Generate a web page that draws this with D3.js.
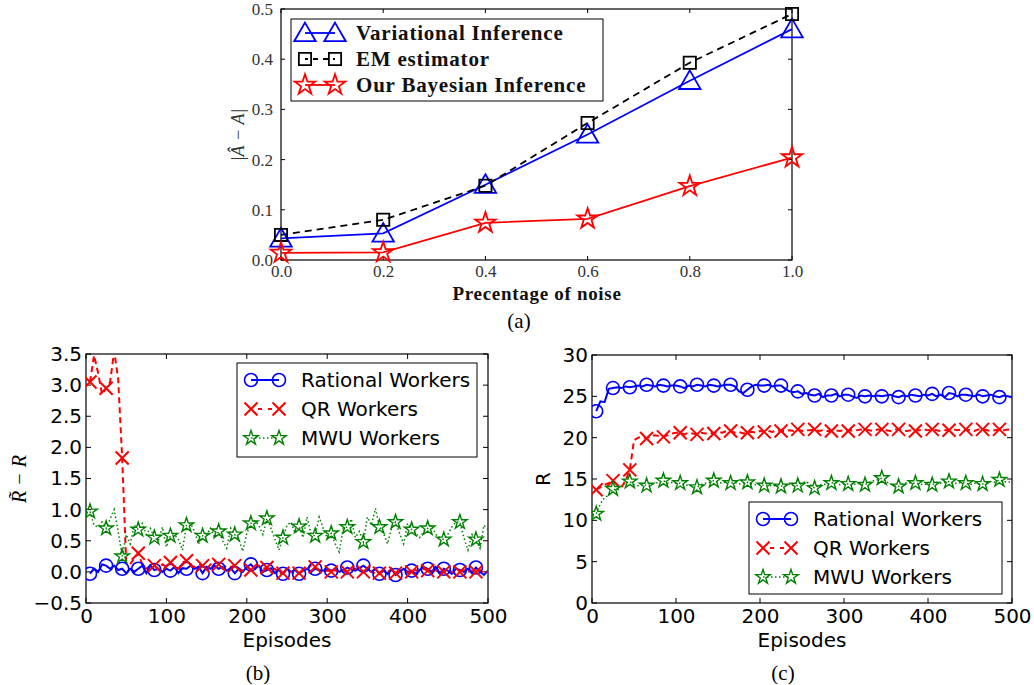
<!DOCTYPE html>
<html><head><meta charset="utf-8">
<script src="https://cdn.jsdelivr.net/npm/d3@7"></script>
<style>body{margin:0;background:#fff}svg{display:block}</style>
</head><body>
<svg id="c" width="1034" height="685"></svg>
<script>
// ---------- Panel (a) data ----------
const noiseLevels = [0.0, 0.2, 0.4, 0.6, 0.8, 1.0];
const viValues    = [0.043, 0.053, 0.150, 0.250, 0.357, 0.460];
const emValues    = [0.050, 0.080, 0.148, 0.273, 0.393, 0.490];
const bayesValues = [0.014, 0.015, 0.074, 0.082, 0.147, 0.204];
const aXTicks = [0.0, 0.2, 0.4, 0.6, 0.8, 1.0];
const aYTicks = [0.0, 0.1, 0.2, 0.3, 0.4, 0.5];
const aLegend = ["Variational Inference", "EM estimator", "Our Bayesian Inference"];

// ---------- Panels (b),(c) data : episode 5,10,...,500 ----------
const episodes = d3.range(5, 505, 5);
const rationalB = [-0.03,0.05,0.0,0.12,0.1,0.05,0.1,0.03,0.05,-0.02,0.05,0.0,0.05,0.1,-0.02,0.1,0.03,0.05,0.0,0.05,
 0.02,0.08,-0.02,0.06,0.05,0.1,0.05,0.08,-0.02,0.08,0.05,0.1,0.05,0.08,0.02,0.06,-0.02,0.05,0.0,0.08,
 0.12,0.05,0.1,0.0,0.03,0.06,-0.02,0.03,-0.03,0.05,0.0,0.03,-0.03,0.02,0.05,0.0,0.05,0.03,0.02,0.05,
 0.02,0.05,0.0,0.03,0.07,0.04,0.02,0.06,0.1,0.05,0.0,0.05,-0.03,0.02,-0.03,0.05,-0.05,0.0,0.05,0.0,
 0.02,-0.03,0.03,0.08,0.05,0.0,0.08,-0.02,0.05,0.02,-0.03,0.05,0.03,0.0,0.05,-0.02,0.07,0.0,-0.05,0.02];
const qrB = [3.05,3.48,3.2,2.85,2.95,3.05,3.55,3.1,1.83,0.15,0.12,0.22,0.3,0.12,0.05,0.1,0.1,0.05,0.12,0.08,
 0.15,0.1,0.05,0.15,0.18,0.1,0.08,0.12,0.1,0.05,0.12,0.18,0.12,0.05,0.1,0.08,0.1,0.05,0.02,0.08,
 0.03,0.06,0.1,0.05,0.07,0.02,0.05,-0.02,-0.02,0.03,0.0,-0.03,-0.02,0.02,0.05,0.1,0.08,0.03,0.0,0.02,
 0.0,0.03,-0.02,0.02,0.0,0.03,0.05,0.02,0.0,0.03,0.0,-0.03,-0.02,0.02,0.0,0.03,-0.02,0.0,0.03,-0.02,
 0.0,0.03,0.0,0.05,0.02,0.0,0.03,-0.02,0.0,0.03,0.0,-0.02,0.0,0.03,0.0,0.02,0.0,0.03,-0.02,0.0];
const mwuB = [0.97,0.75,0.72,0.8,0.7,0.85,1.0,0.65,0.25,0.6,0.45,0.75,0.68,0.78,0.6,0.7,0.55,0.5,0.72,0.4,
 0.58,0.6,0.52,0.35,0.75,0.78,0.65,0.45,0.58,0.6,0.7,0.55,0.65,0.5,0.38,0.7,0.6,0.52,0.33,0.62,
 0.78,0.82,0.75,0.6,0.86,0.7,0.52,0.35,0.55,0.75,0.8,0.62,0.73,0.55,0.88,0.6,0.58,0.88,0.7,0.55,
 0.62,0.45,0.32,0.7,0.72,0.85,0.55,0.65,0.48,0.88,0.75,1.02,0.72,0.62,0.45,0.7,0.8,0.62,0.45,0.78,
 0.68,0.62,0.55,0.65,0.7,0.75,0.6,0.55,0.52,0.6,0.72,0.8,0.8,0.55,0.35,0.6,0.52,0.38,0.75,0.68];

const rationalC = [23.2,24.4,24.3,25.9,26.0,26.1,26.0,26.2,26.1,26.2,26.3,26.2,26.4,26.3,26.2,26.4,26.3,26.2,26.3,26.3,
 26.2,26.0,26.3,26.2,26.4,26.3,26.2,26.4,26.3,26.2,26.3,26.4,26.4,26.2,25.6,25.4,25.8,26.2,26.4,26.3,
 26.3,26.4,26.2,26.3,26.3,25.9,25.6,25.5,25.6,25.3,25.4,25.2,25.1,25.3,24.9,25.1,25.1,25.3,25.0,25.2,
 25.2,25.0,24.8,25.1,25.0,25.1,25.0,25.1,25.0,25.1,25.2,25.0,24.9,25.1,25.0,25.2,25.1,25.0,25.2,25.1,
 25.3,25.0,25.2,24.9,25.4,25.3,25.0,25.2,25.2,25.1,25.0,25.2,25.0,25.1,25.2,25.0,24.9,25.1,25.0,24.9];
const qrC = [13.7,14.0,14.3,14.5,14.8,14.3,14.0,14.8,16.1,19.7,20.0,20.1,19.9,20.2,20.3,20.2,20.1,20.3,20.5,20.6,
 20.6,20.4,20.6,20.5,20.4,20.6,20.5,20.6,20.5,20.7,20.6,20.8,20.8,20.6,20.7,20.5,20.6,20.7,20.6,20.8,
 20.7,20.8,20.7,20.9,20.8,20.8,20.9,20.8,21.0,20.8,20.9,20.9,21.0,20.8,20.9,20.8,20.8,20.9,20.8,20.9,
 20.8,20.9,20.9,21.0,21.0,20.9,20.8,21.0,21.0,20.9,20.8,21.0,21.0,20.9,20.8,20.9,20.8,20.9,21.0,20.9,
 21.0,20.9,20.8,20.9,20.9,21.0,20.9,21.0,21.0,20.9,20.8,21.0,21.0,20.9,20.8,20.9,21.0,20.9,21.0,20.9];
const mwuC = [10.8,12.0,12.8,13.0,13.8,13.6,14.2,14.5,14.7,14.3,14.2,14.4,14.2,14.3,14.5,14.6,14.8,14.5,14.6,14.5,
 14.5,14.2,14.3,14.1,14.0,14.3,14.5,14.6,14.8,14.6,14.5,14.7,14.5,14.6,14.4,14.5,14.6,14.4,14.3,14.4,
 14.2,14.3,14.1,14.3,14.1,14.3,14.4,14.2,14.2,14.5,14.7,14.3,13.9,14.2,14.4,14.3,14.5,14.6,14.3,14.4,
 14.4,14.2,14.5,14.4,14.3,14.6,14.8,14.9,15.1,14.7,14.4,14.2,14.1,14.4,14.6,14.5,14.5,14.4,14.3,14.4,
 14.3,14.6,14.5,14.6,14.7,14.4,14.5,14.6,14.5,14.3,14.5,14.4,14.4,14.6,14.7,14.6,14.9,14.7,14.6,14.7];

const workerLegend = ["Rational Workers", "QR Workers", "MWU Workers"];
const episodeTicks = [0, 100, 200, 300, 400, 500];
const bYTicks = [-0.5, 0.0, 0.5, 1.0, 1.5, 2.0, 2.5, 3.0, 3.5];
const cYTicks = [0, 5, 10, 15, 20, 25, 30];

// ---------- drawing ----------
const svg = d3.select("#c");
const SERIF = "'Liberation Serif', 'DejaVu Serif', serif";
const SANS = "'DejaVu Sans', sans-serif";
let clipId = 0;

function markerPath(type, g, x, y, color, opts) {
  if (type === "x") {
    const s = opts.half;
    g.append("path").attr("d", `M${x-s},${y-s}L${x+s},${y+s}M${x-s},${y+s}L${x+s},${y-s}`)
      .attr("stroke", color).attr("stroke-width", opts.sw).attr("fill", "none");
  } else if (type === "circle") {
    g.append("circle").attr("cx", x).attr("cy", y).attr("r", opts.r)
      .attr("stroke", color).attr("stroke-width", opts.sw).attr("fill", "none");
  } else {
    const sym = {triangle: d3.symbolTriangle, square: d3.symbolSquare, star: d3.symbolStar}[type];
    const dy = type === "triangle" ? opts.dy || 0 : 0;
    g.append("path").attr("d", d3.symbol(sym).size(opts.size)())
      .attr("transform", `translate(${x},${y + dy})`)
      .attr("stroke", color).attr("stroke-width", opts.sw).attr("fill", opts.fill || "none");
  }
}

function frame(g, x, y, xTicks, yTicks, tickLen) {
  const [x0, x1] = x.range(), [y0, y1] = y.range();
  const tk = g.append("g").attr("stroke", "#000").attr("stroke-width", 1);
  xTicks.forEach(t => {
    tk.append("line").attr("x1", x(t)).attr("x2", x(t)).attr("y1", y0).attr("y2", y0 - tickLen);
    tk.append("line").attr("x1", x(t)).attr("x2", x(t)).attr("y1", y1).attr("y2", y1 + tickLen);
  });
  yTicks.forEach(t => {
    tk.append("line").attr("y1", y(t)).attr("y2", y(t)).attr("x1", x0).attr("x2", x0 + tickLen);
    tk.append("line").attr("y1", y(t)).attr("y2", y(t)).attr("x1", x1).attr("x2", x1 - tickLen);
  });
  g.append("rect").attr("x", x0).attr("y", y1).attr("width", x1 - x0).attr("height", y0 - y1)
    .attr("fill", "none").attr("stroke", "#000").attr("stroke-width", 1.2);
}

// ===== Panel (a) =====
(function () {
  const x = d3.scaleLinear([0, 1], [281, 792]);
  const y = d3.scaleLinear([0, 0.5], [260, 9]);
  const g = svg.append("g");
  const ax = g.append("g").attr("transform", "translate(0,260)")
    .call(d3.axisBottom(x).tickValues(aXTicks).tickFormat(d3.format(".1f")).tickSize(0).tickPadding(5));
  ax.select(".domain").remove();
  ax.selectAll("text").attr("font-family", SERIF).attr("font-size", 17).attr("fill", "#333");
  const ay = g.append("g").attr("transform", "translate(281,0)")
    .call(d3.axisLeft(y).tickValues(aYTicks).tickFormat(d3.format(".1f")).tickSize(0).tickPadding(8));
  ay.select(".domain").remove();
  ay.selectAll("text").attr("font-family", SERIF).attr("font-size", 17).attr("fill", "#333");
  frame(g, x, y, aXTicks, aYTicks, 4);

  const series = [
    {vals: viValues, color: "#0000ff", dash: null, m: "triangle", opts: {size: 200, sw: 1.8, dy: 2}},
    {vals: emValues, color: "#000000", dash: "7,5", m: "square", opts: {size: 150, sw: 1.8}},
    {vals: bayesValues, color: "#ff0000", dash: null, m: "star", opts: {size: 130, sw: 1.8}}
  ];
  const line = d3.line().x((d, i) => x(noiseLevels[i])).y(d => y(d));
  series.forEach(s => {
    g.append("path").attr("d", line(s.vals)).attr("fill", "none").attr("stroke", s.color)
      .attr("stroke-width", 1.8).attr("stroke-dasharray", s.dash);
  });
  series.forEach(s => {
    const mg = g.append("g");
    s.vals.forEach((v, i) => markerPath(s.m, mg, x(noiseLevels[i]), y(v), s.color, s.opts));
  });

  // legend
  const lg = g.append("g");
  lg.append("rect").attr("x", 291).attr("y", 19).attr("width", 312).attr("height", 82)
    .attr("fill", "#fff").attr("stroke", "#000").attr("stroke-width", 1);
  series.forEach((s, i) => {
    const yy = 33 + i * 26;
    lg.append("line").attr("x1", 305).attr("x2", 335).attr("y1", yy).attr("y2", yy)
      .attr("stroke", s.color).attr("stroke-width", 1.8).attr("stroke-dasharray", s.dash ? "5,5" : null)
      .attr("stroke-dashoffset", s.dash ? -8 : 0);
    markerPath(s.m, lg, 305, yy, s.color, s.opts);
    markerPath(s.m, lg, 335, yy, s.color, s.opts);
    lg.append("text").attr("x", 356).attr("y", yy).attr("dy", "0.35em")
      .attr("font-family", SERIF).attr("font-weight", "bold").attr("font-size", 21)
      .attr("letter-spacing", 0.8).attr("fill", "#111")
      .text(aLegend[i]);
  });

  g.append("text").attr("x", 537).attr("y", 300).attr("text-anchor", "middle")
    .attr("font-family", SERIF).attr("font-weight", "bold").attr("font-size", 19)
    .attr("letter-spacing", 0.7).attr("fill", "#111")
    .text("Precentage of noise");
  g.append("text").attr("transform", "translate(244,135) rotate(-90)").attr("text-anchor", "middle")
    .attr("font-family", SERIF).attr("font-style", "italic").attr("font-size", 18).attr("fill", "#333")
    .text("|Â − A|");
  g.append("text").attr("x", 519).attr("y", 328).attr("text-anchor", "middle")
    .attr("font-family", SERIF).attr("font-size", 21).attr("fill", "#000").text("(a)");
})();

// ===== Panels (b) and (c) =====
function workerPanel(cfg) {
  const x = d3.scaleLinear([0, 500], cfg.xr);
  const y = d3.scaleLinear(cfg.yd, cfg.yr);
  const g = svg.append("g");
  const ax = g.append("g").attr("transform", `translate(0,${cfg.yr[0]})`)
    .call(d3.axisBottom(x).tickValues(episodeTicks).tickFormat(d3.format("d")).tickSize(0).tickPadding(6));
  ax.select(".domain").remove();
  ax.selectAll("text").attr("font-family", SANS).attr("font-size", 20).attr("fill", "#000");
  const ay = g.append("g").attr("transform", `translate(${cfg.xr[0]},0)`)
    .call(d3.axisLeft(y).tickValues(cfg.yTicks).tickFormat(cfg.fmt).tickSize(0).tickPadding(4));
  ay.select(".domain").remove();
  ay.selectAll("text").attr("font-family", SANS).attr("font-size", 20).attr("fill", "#000");
  frame(g, x, y, episodeTicks, cfg.yTicks, 5);

  const id = "clip" + (clipId++);
  g.append("clipPath").attr("id", id).append("rect")
    .attr("x", cfg.xr[0]).attr("y", cfg.yr[1]).attr("width", cfg.xr[1] - cfg.xr[0]).attr("height", cfg.yr[0] - cfg.yr[1]);
  const pg = g.append("g").attr("clip-path", `url(#${id})`);
  const line = d3.line().x((d, i) => x(episodes[i])).y(d => y(d));
  const series = [
    {vals: cfg.rational, color: "#0000ff", dash: null, sw: 2, m: "circle", opts: {r: 6.5, sw: 1.6}},
    {vals: cfg.qr, color: "#ff0000", dash: "6,4", sw: 2, m: "x", opts: {half: 6.5, sw: 2}},
    {vals: cfg.mwu, color: "#008000", dash: "1.5,2.5", sw: 1.5, m: "star", opts: {size: 65, sw: 1.4}}
  ];
  series.forEach(s => {
    pg.append("path").attr("d", line(s.vals)).attr("fill", "none").attr("stroke", s.color)
      .attr("stroke-width", s.sw).attr("stroke-dasharray", s.dash);
  });
  series.forEach(s => {
    s.vals.forEach((v, i) => {
      if (i % 4 === 0) markerPath(s.m, pg, x(episodes[i]), y(v), s.color, s.opts);
    });
  });

  const L = cfg.legend;
  const lg = g.append("g");
  lg.append("rect").attr("x", L.x).attr("y", L.y).attr("width", L.w).attr("height", L.h)
    .attr("fill", "#fff").attr("stroke", "#000").attr("stroke-width", 1);
  series.forEach((s, i) => {
    const yy = L.y + 17 + i * 29;
    lg.append("line").attr("x1", L.x + 14).attr("x2", L.x + 42).attr("y1", yy).attr("y2", yy)
      .attr("stroke", s.color).attr("stroke-width", s.sw)
      .attr("stroke-dasharray", s.dash === "6,4" ? "4,6" : s.dash)
      .attr("stroke-dashoffset", s.dash === "6,4" ? -7 : 0);
    markerPath(s.m, lg, L.x + 14, yy, s.color, s.opts);
    markerPath(s.m, lg, L.x + 42, yy, s.color, s.opts);
    lg.append("text").attr("x", L.x + 64).attr("y", yy).attr("dy", "0.36em")
      .attr("font-family", SANS).attr("font-size", 20).attr("fill", "#000").text(workerLegend[i]);
  });

  const cx = (cfg.xr[0] + cfg.xr[1]) / 2;
  g.append("text").attr("x", cx).attr("y", 647).attr("text-anchor", "middle")
    .attr("font-family", SANS).attr("font-size", 20).attr("fill", "#000").text("Episodes");
  g.append("text").attr("transform", `translate(${cfg.ylx},479) rotate(-90)`).attr("text-anchor", "middle")
    .attr("font-family", cfg.ylFont).attr("font-style", cfg.ylStyle).attr("font-size", 20).attr("fill", "#000")
    .text(cfg.ylabel);
  g.append("text").attr("x", cfg.capX).attr("y", 680).attr("text-anchor", "middle")
    .attr("font-family", SERIF).attr("font-size", 21).attr("fill", "#000").text(cfg.caption);
}

workerPanel({
  xr: [86, 488], yd: [-0.5, 3.5], yr: [603, 354], yTicks: bYTicks,
  fmt: v => (v < 0 ? "−" : "") + Math.abs(v).toFixed(1),
  rational: rationalB, qr: qrB, mwu: mwuB,
  legend: {x: 237, y: 363, w: 240, h: 94},
  ylabel: "R\u0303 − R", ylx: 26, ylFont: SERIF, ylStyle: "italic",
  caption: "(b)", capX: 258
});
workerPanel({
  xr: [592, 1012], yd: [0, 30], yr: [603, 355], yTicks: cYTicks,
  fmt: d3.format("d"),
  rational: rationalC, qr: qrC, mwu: mwuC,
  legend: {x: 749, y: 502, w: 253, h: 92},
  ylabel: "R", ylx: 550, ylFont: SANS, ylStyle: "normal",
  caption: "(c)", capX: 783
});
</script>
</body></html>
